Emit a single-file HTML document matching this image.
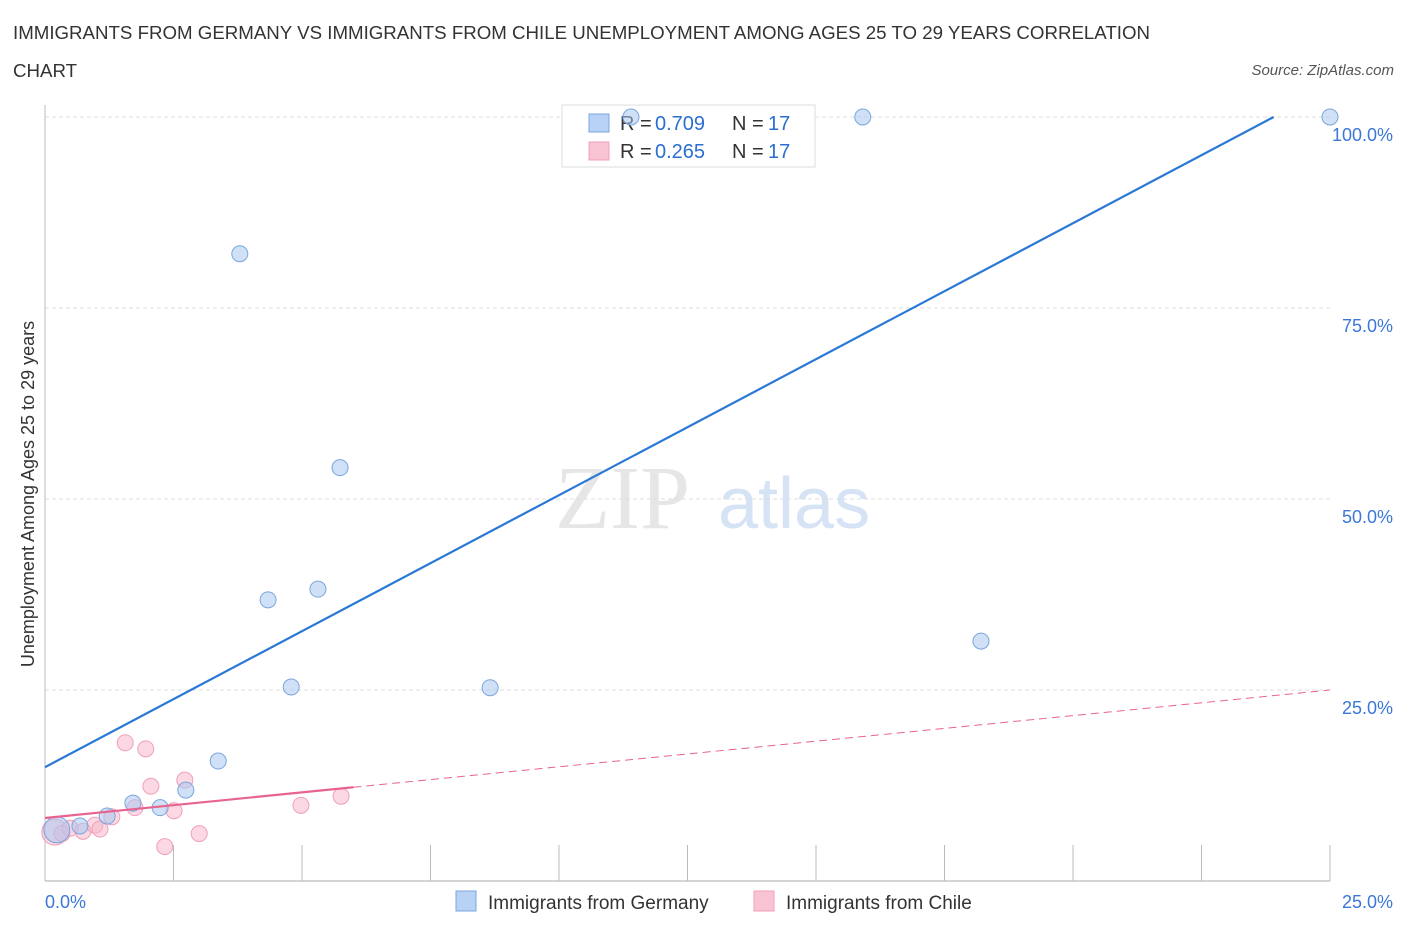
<!DOCTYPE html>
<html><head><meta charset="utf-8"><style>
body{margin:0;background:#fff;font-family:"Liberation Sans",sans-serif;}
#wrap{position:relative;width:1406px;height:930px;overflow:hidden;}
.t{position:absolute;white-space:nowrap;}
</style></head><body>
<div id="wrap">
<div class="t" style="left:13px;top:14px;font-size:18.7px;color:#333;line-height:38px;">IMMIGRANTS FROM GERMANY VS IMMIGRANTS FROM CHILE UNEMPLOYMENT AMONG AGES 25 TO 29 YEARS CORRELATION<br>CHART</div>
<div class="t" style="right:12px;top:62px;font-size:15px;color:#555;font-style:italic;">Source: ZipAtlas.com</div>
<svg id="svg" width="1406" height="930" style="position:absolute;left:0;top:0"></svg>
</div>
<script>
const blueX=[0.23,0.68,1.21,1.71,2.24,2.74,3.37,3.79,4.34,4.79,5.31,5.74,8.66,11.4,15.91,18.21,25];
const blueY=[6.7,7.2,8.5,10.2,9.6,11.9,15.7,82.1,36.8,25.4,38.2,54.1,25.3,100,100,31.4,100];
const pinkX=[0.19,0.33,0.49,0.74,0.97,1.07,1.30,1.56,1.75,1.96,2.06,2.33,2.51,2.72,3.00,4.98,5.76];
const pinkY=[6.4,6.2,6.9,6.5,7.3,6.8,8.4,18.1,9.6,17.3,12.4,4.5,9.2,13.2,6.2,9.9,11.1];
const yTicks=[25,50,75,100];
const yTickLabels=["25.0%","50.0%","75.0%","100.0%"];
const blueFit=[14.9,3.56];
const pinkFit=[8.25,0.67];
const NS="http://www.w3.org/2000/svg";
const svg=document.getElementById('svg');
const X=v=>45+v/25*1285, Y=v=>881-v/100*764;
function mk(tag,attrs,parent){const e=document.createElementNS(NS,tag);for(const k in attrs)e.setAttribute(k,attrs[k]);(parent||svg).appendChild(e);return e;}
let w=mk('text',{x:555,y:528,'font-size':90,fill:'#e6e6e6','font-family':'Liberation Serif,serif'});w.textContent='ZIP';


let w2=mk('text',{x:718,y:528,'font-size':72,fill:'#d5e3f5','font-family':'Liberation Sans,sans-serif'});w2.textContent='atlas';


yTicks.forEach((t,i)=>{
 const g=mk('line',{x1:45,x2:1330,y1:Y(t),y2:Y(t),stroke:'#ddd','stroke-dasharray':'4,3'});
 
 
 const l=mk('text',{x:1393,y:Y(t)+24,'text-anchor':'end','font-size':18,fill:'#3b78d8'});l.textContent=yTickLabels[i];
 
 
});
mk('line',{x1:45,x2:45,y1:105,y2:881,stroke:'#bbb'});
const ax=mk('line',{x1:45,x2:1330,y1:881,y2:881,stroke:'#aaa'});


for(let i=0;i<=10;i++){const tk=mk('line',{x1:X(i*2.5),x2:X(i*2.5),y1:845,y2:881,stroke:'#bbb'});
 
 }
const xl0=mk('text',{x:45,y:908,'font-size':18,fill:'#3b78d8'});xl0.textContent='0.0%';


const xl1=mk('text',{x:1393,y:908,'font-size':18,fill:'#3b78d8','text-anchor':'end'});xl1.textContent='25.0%';


const yt=mk('text',{x:0,y:0,'font-size':18,fill:'#333','text-anchor':'middle',transform:'translate(34,494) rotate(-90)'});yt.textContent='Unemployment Among Ages 25 to 29 years';


// legend top (drawn before points)
const lg=mk('g',{});


mk('rect',{x:562,y:105,width:253,height:62,fill:'#fff',stroke:'#ddd'},lg);
mk('rect',{x:589,y:114,width:20,height:18,fill:'#b8d2f5',stroke:'#7aa6dc'},lg);
mk('rect',{x:589,y:142,width:20,height:18,fill:'#f8c4d4',stroke:'#f0a0b8'},lg);
[['0.709',130],['0.265',158]].forEach(([r,yy])=>{
 let t=mk('text',{x:620,y:yy,'font-size':20,fill:'#333'},lg);t.textContent='R =';
 t=mk('text',{x:655,y:yy,'font-size':20,fill:'#2a6fd0'},lg);t.textContent=r;
 t=mk('text',{x:732,y:yy,'font-size':20,fill:'#333'},lg);t.textContent='N =';
 t=mk('text',{x:768,y:yy,'font-size':20,fill:'#2a6fd0'},lg);t.textContent='17';
});
pinkX.forEach((x,i)=>{const c=mk('circle',{cx:X(x),cy:Y(pinkY[i]),r:i==0?13:8,fill:'rgba(248,184,204,0.55)',stroke:'#f0a0b8','stroke-width':1});
 
 });
blueX.forEach((x,i)=>{const c=mk('circle',{cx:X(x),cy:Y(blueY[i]),r:i==0?13:8,fill:'rgba(170,200,240,0.55)',stroke:'#7aa6dc','stroke-width':1});
 
 });
const bEnd=(100-blueFit[0])/blueFit[1];
const bl=mk('line',{x1:X(0),y1:Y(blueFit[0]),x2:X(bEnd),y2:Y(100),stroke:'#2a78d6','stroke-width':2.2});


const pl=mk('line',{x1:X(0),y1:Y(pinkFit[0]),x2:X(6),y2:Y(pinkFit[0]+pinkFit[1]*6),stroke:'#e8638e','stroke-width':2.2});


const pd=mk('line',{x1:X(6),y1:Y(pinkFit[0]+pinkFit[1]*6),x2:X(25),y2:Y(pinkFit[0]+pinkFit[1]*25),stroke:'#e8638e','stroke-width':1,'stroke-dasharray':'8,5'});


const bl2=mk('g',{});


mk('rect',{x:456,y:891,width:20,height:20,fill:'#b8d2f5',stroke:'#7aa6dc'},bl2);
let lt=mk('text',{x:488,y:909,'font-size':19,fill:'#333'},bl2);lt.textContent='Immigrants from Germany';
mk('rect',{x:754,y:891,width:20,height:20,fill:'#f8c4d4',stroke:'#f0a0b8'},bl2);
lt=mk('text',{x:786,y:909,'font-size':19,fill:'#333'},bl2);lt.textContent='Immigrants from Chile';
</script>
</body></html>
